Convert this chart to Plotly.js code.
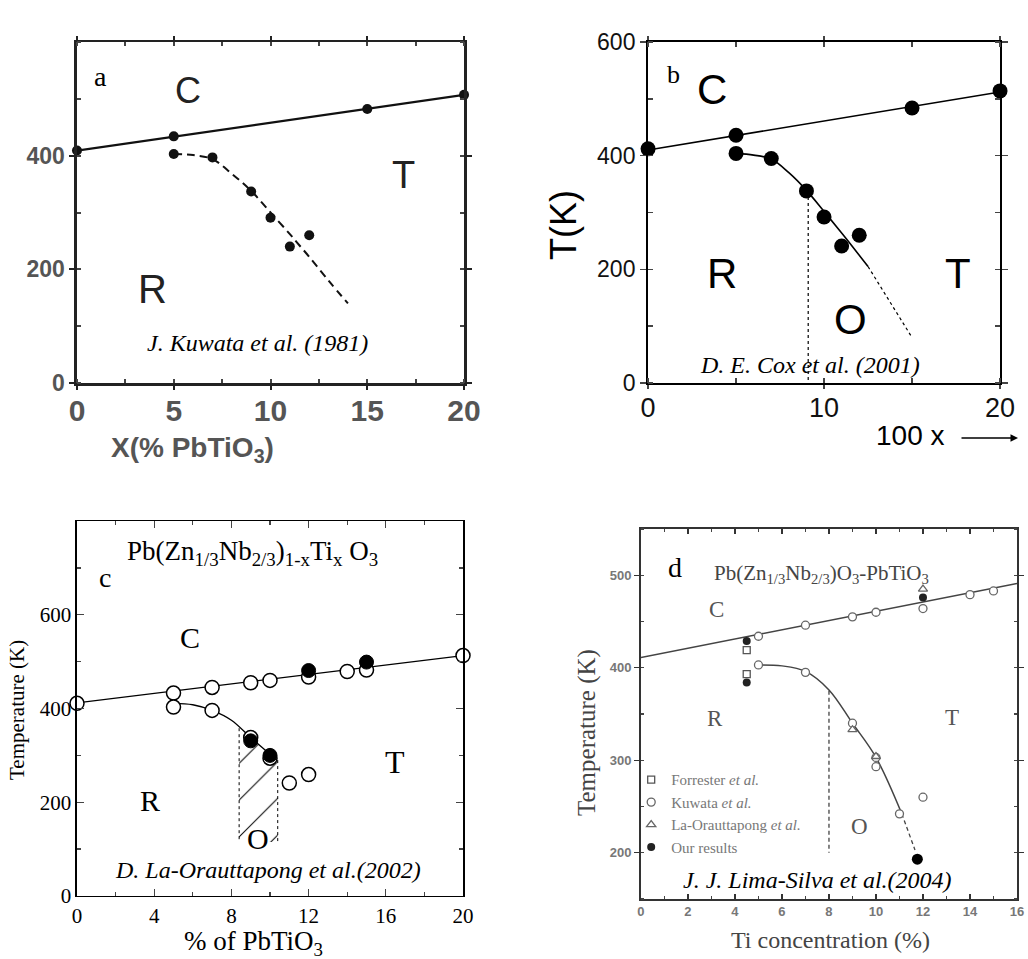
<!DOCTYPE html>
<html><head><meta charset="utf-8">
<script src="https://cdn.plot.ly/plotly-3.0.1.min.js"></script>
<style>html,body{margin:0;padding:0;background:#fff}#fig{width:1028px;height:959px}</style>
</head><body><div id="fig"></div>
<script>
// ---------- Panel a (Kuwata 1981) ----------
const aTopX = [0, 5, 15, 20];
const aTopY = [409, 434, 482, 507];
const aLowX = [5, 7, 9, 10, 11, 12];
const aLowY = [403, 397, 337, 291, 240, 260];
const aLineX = [0, 20];
const aLineY = [409, 507];
const aCurveX = [5, 6, 7, 8, 9, 10, 11, 11.5, 12, 13, 14];
const aCurveY = [403, 401, 394, 368, 338, 300, 262, 242, 222, 180, 140];
const aXTicks = [0, 5, 10, 15, 20];
const aYTicks = [0, 200, 400];

// ---------- Panel b (Cox 2001) ----------
const bTopX = [0, 5, 15, 20];
const bTopY = [412, 436, 484, 514];
const bLowX = [5, 7, 9, 10, 11, 12];
const bLowY = [404, 395, 338, 292, 241, 260];
const bLineX = [0, 20];
const bLineY = [410, 512];
const bCurveX = [5, 6, 7, 8, 9, 10, 11, 12, 12.5];
const bCurveY = [404, 401, 394, 370, 339, 302, 264, 225, 205];
const bDotX = [12.5, 15];
const bDotY = [205, 80];
const bVertX = [9.1, 9.1];
const bVertY = [338, -15];
const bXTicks = [0, 10, 20];
const bYTicks = [0, 200, 400, 600];

// ---------- Panel c (La-Orauttapong 2002) ----------
const cOpenX = [0, 5, 7, 9, 10, 12, 14, 15, 20, 5, 7, 9, 10, 11, 12];
const cOpenY = [411, 433, 445, 455, 460, 467, 479, 482, 513, 403, 396, 338, 294, 241, 259];
const cFillX = [12, 15, 9, 10];
const cFillY = [481, 499, 331, 300];
const cLineX = [0, 20];
const cLineY = [412, 513];
const cCurveX = [5, 6, 7, 8, 9, 10, 10.3];
const cCurveY = [411, 408, 396, 375, 338, 302, 291];
const cHatchX = [8.4, 8.4, 9, 10, 10.4, 10.4, 8.4];
const cHatchY = [115, 358, 338, 302, 290, 115, 115];
const cLeftEdgeX = [8.4, 8.4];
const cLeftEdgeY = [358, 115];
const cRightEdgeX = [10.4, 10.4];
const cRightEdgeY = [290, 115];
const cXTicks = [0, 4, 8, 12, 16, 20];
const cYTicks = [0, 200, 400, 600];

// ---------- Panel d (Lima-Silva 2004) ----------
const dForX = [4.5, 4.5];
const dForY = [419, 393];
const dKuwX = [5, 7, 9, 10, 12, 14, 15, 5, 7, 9, 10, 10, 11, 12];
const dKuwY = [434, 446, 455, 460, 464, 479, 483, 403, 395, 340, 303, 293, 242, 260];
const dLaOX = [9, 10, 12];
const dLaOY = [333, 304, 485];
const dOurX = [4.5, 4.5, 12];
const dOurY = [429, 384, 476];
const dBigX = [11.76];
const dBigY = [193];
const dLineX = [0, 16];
const dLineY = [411, 491];
const dCurveX = [5, 6, 7, 8, 9, 10, 11.1];
const dCurveY = [403, 402, 396, 376, 340, 303, 242];
const dDashX = [11.1, 11.66];
const dDashY = [242, 203];
const dVertX = [8, 8];
const dVertY = [375, 200];
const dXTicks = [0, 2, 4, 6, 8, 10, 12, 14, 16];
const dYTicks = [200, 300, 400, 500];
const dLegendNames = ['Forrester <i>et al.</i>', 'Kuwata <i>et al.</i>', 'La-Orauttapong <i>et al.</i>', 'Our results'];

const SANS = 'Liberation Sans, Arial, sans-serif';
const SERIF = 'Liberation Serif, Times New Roman, serif';

function line(x, y, xa, ya, opts) {
  return Object.assign({x: x, y: y, xaxis: xa, yaxis: ya, mode: 'lines', showlegend: false,
    hoverinfo: 'skip', cliponaxis: false,
    line: {color: 'black', width: 1.5, shape: 'spline', smoothing: 1}}, opts || {});
}
function pts(x, y, xa, ya, marker, opts) {
  return Object.assign({x: x, y: y, xaxis: xa, yaxis: ya, mode: 'markers', showlegend: false,
    cliponaxis: false, marker: marker}, opts || {});
}

const traces = [
  // a
  line(aLineX, aLineY, 'x', 'y', {line: {color: '#111', width: 2.2}}),
  line(aCurveX, aCurveY, 'x', 'y', {line: {color: '#111', width: 2, dash: '8px,5px', shape: 'spline'}}),
  pts(aTopX, aTopY, 'x', 'y', {color: '#111', size: 10}),
  pts(aLowX, aLowY, 'x', 'y', {color: '#111', size: 10}),
  // b
  line(bLineX, bLineY, 'x2', 'y2', {line: {color: 'black', width: 1.6}}),
  line(bCurveX, bCurveY, 'x2', 'y2', {line: {color: 'black', width: 1.6, shape: 'spline'}}),
  line(bDotX, bDotY, 'x2', 'y2', {line: {color: 'black', width: 1.2, dash: 'dot'}}),
  line(bVertX, bVertY, 'x2', 'y2', {line: {color: 'black', width: 1.2, dash: 'dot'}}),
  pts(bTopX, bTopY, 'x2', 'y2', {color: 'black', size: 15}),
  pts(bLowX, bLowY, 'x2', 'y2', {color: 'black', size: 15}),
  // c
  {x: cHatchX, y: cHatchY, xaxis: 'x3', yaxis: 'y3', mode: 'lines', fill: 'toself', showlegend: false,
   hoverinfo: 'skip', line: {width: 0, color: 'rgba(0,0,0,0)'}, fillcolor: 'rgba(0,0,0,0)',
   fillpattern: {shape: '/', size: 26, solidity: 0.04, fgcolor: 'black', bgcolor: 'rgba(255,255,255,0)'}},
  line(cLeftEdgeX, cLeftEdgeY, 'x3', 'y3', {line: {color: 'black', width: 1, dash: 'dot'}}),
  line(cRightEdgeX, cRightEdgeY, 'x3', 'y3', {line: {color: 'black', width: 1, dash: 'dot'}}),
  line(cLineX, cLineY, 'x3', 'y3', {line: {color: 'black', width: 1.3}}),
  line(cCurveX, cCurveY, 'x3', 'y3', {line: {color: 'black', width: 1.3, shape: 'spline'}}),
  pts(cOpenX, cOpenY, 'x3', 'y3', {symbol: 'circle', color: 'white', size: 14, line: {color: 'black', width: 1.5}}),
  pts(cFillX, cFillY, 'x3', 'y3', {symbol: 'circle', color: 'black', size: 14, line: {color: 'black', width: 1}}),
  // d
  line(dLineX, dLineY, 'x4', 'y4', {line: {color: '#444', width: 1.5}}),
  line(dCurveX, dCurveY, 'x4', 'y4', {line: {color: '#444', width: 1.5, shape: 'spline'}}),
  line(dDashX, dDashY, 'x4', 'y4', {line: {color: '#444', width: 1.3, dash: '4px,3px'}}),
  line(dVertX, dVertY, 'x4', 'y4', {line: {color: '#333', width: 1.2, dash: '4px,3px'}}),
  pts(dForX, dForY, 'x4', 'y4', {symbol: 'square-open', color: '#555', size: 7, line: {width: 1.3}},
      {name: dLegendNames[0], showlegend: true}),
  pts(dKuwX, dKuwY, 'x4', 'y4', {symbol: 'circle', color: 'white', size: 8, line: {color: '#666', width: 1.3}},
      {name: dLegendNames[1], showlegend: true}),
  pts(dLaOX, dLaOY, 'x4', 'y4', {symbol: 'triangle-up', color: 'white', size: 8, line: {color: '#666', width: 1.3}},
      {name: dLegendNames[2], showlegend: true}),
  pts(dOurX, dOurY, 'x4', 'y4', {symbol: 'circle', color: '#222', size: 8},
      {name: dLegendNames[3], showlegend: true}),
  pts(dBigX, dBigY, 'x4', 'y4', {symbol: 'circle', color: 'black', size: 11})
];

function ax(extra) {
  return Object.assign({showgrid: false, zeroline: false, showline: true, mirror: 'ticks',
    fixedrange: true, automargin: false}, extra);
}

const layout = {
  width: 1028, height: 959, margin: {l: 0, r: 0, t: 0, b: 0},
  paper_bgcolor: 'white', plot_bgcolor: 'white',
  showlegend: true,
  legend: {x: 0.614, y: 0.204, xanchor: 'left', yanchor: 'top', bgcolor: 'rgba(0,0,0,0)',
    font: {family: SERIF, size: 15, color: '#777'}, itemwidth: 30, tracegroupgap: 0},
  // a
  xaxis: ax({domain: [0.0749, 0.4514], anchor: 'y', range: [0, 20], tickvals: aXTicks,
    ticks: 'outside', ticklen: 4, tickwidth: 2, linewidth: 2.5, linecolor: '#222', tickcolor: '#222',
    ticklabelstandoff: -5,
    tickfont: {family: SANS, size: 30, color: '#555', weight: 'bold'},
    minor: {dtick: 2.5, ticks: 'inside', ticklen: 4, tickcolor: '#444'}}),
  yaxis: ax({domain: [0.6006, 0.9562], anchor: 'x', range: [0, 600], tickvals: aYTicks,
    ticks: 'outside', ticklen: 5, tickwidth: 2, linewidth: 2.5, linecolor: '#222', tickcolor: '#222',
    tickfont: {family: SANS, size: 23, color: '#555', weight: 'bold'},
    minor: {dtick: 100, ticks: 'inside', ticklen: 4, tickcolor: '#444'}}),
  // b
  xaxis2: ax({domain: [0.6304, 0.9728], anchor: 'y2', range: [0, 20], tickvals: bXTicks,
    ticks: 'outside', ticklen: 4, tickwidth: 1.5, linewidth: 2, linecolor: 'black',
    ticklabelstandoff: -4,
    tickfont: {family: SANS, size: 27, color: '#111'},
    minor: {dtick: 5, ticks: 'inside', ticklen: 5}}),
  yaxis2: ax({domain: [0.6006, 0.9562], anchor: 'x2', range: [0, 600], tickvals: bYTicks,
    ticks: 'outside', ticklen: 6, tickwidth: 1.5, linewidth: 2, linecolor: 'black',
    tickfont: {family: SANS, size: 23, color: '#111'},
    minor: {dtick: 100, ticks: 'inside', ticklen: 5}}),
  // c
  xaxis3: ax({domain: [0.0749, 0.4504], anchor: 'y3', range: [0, 20], tickvals: cXTicks,
    ticks: 'inside', ticklen: 7, tickwidth: 1.3, linewidth: 1.5, linecolor: 'black',
    tickfont: {family: SERIF, size: 21, color: 'black'},
    minor: {dtick: 2, ticks: 'inside', ticklen: 4}}),
  yaxis3: ax({domain: [0.0657, 0.4567], anchor: 'x3', range: [0, 800], tickvals: cYTicks,
    ticks: 'inside', ticklen: 7, tickwidth: 1.3, linewidth: 1.5, linecolor: 'black',
    tickfont: {family: SERIF, size: 21, color: 'black'},
    minor: {dtick: 100, ticks: 'inside', ticklen: 4}}),
  // d
  xaxis4: ax({domain: [0.6235, 0.9893], anchor: 'y4', range: [0, 16], tickvals: dXTicks,
    ticks: 'inside', ticklen: 5, tickwidth: 1.3, linewidth: 1.8, linecolor: '#333', tickcolor: '#333',
    tickfont: {family: SANS, size: 13, color: '#777', weight: 'bold'},
    minor: {dtick: 1, ticks: 'inside', ticklen: 3, tickcolor: '#444'}}),
  yaxis4: ax({domain: [0.0626, 0.4484], anchor: 'x4', range: [150, 550], tickvals: dYTicks,
    ticks: 'outside', ticklen: 5, tickwidth: 1.3, linewidth: 1.8, linecolor: '#333', tickcolor: '#333',
    tickfont: {family: SANS, size: 13, color: '#777', weight: 'bold'},
    minor: {dtick: 50, ticks: 'inside', ticklen: 3, tickcolor: '#444'}}),
  annotations: []
};

function note(text, x, y, xref, yref, font, extra) {
  layout.annotations.push(Object.assign({text: text, x: x, y: y, xref: xref, yref: yref,
    showarrow: false, xanchor: 'center', yanchor: 'middle', font: font}, extra || {}));
}
const P = 'paper';
// a labels
note('a', 1.19, 540, 'x', 'y', {family: SERIF, size: 28, color: 'black'});
note('C', 5.74, 515, 'x', 'y', {family: SANS, size: 36, color: '#222'});
note('T', 16.85, 366, 'x', 'y', {family: SANS, size: 38, color: '#222'});
note('R', 3.88, 165, 'x', 'y', {family: SANS, size: 40, color: '#222'});
note('<i>J. Kuwata et al. (1981)</i>', 9.35, 71, 'x', 'y', {family: SERIF, size: 24, color: 'black'});
note('X(% PbTiO<sub>3</sub>)', 192 / 1028, 1 - 449 / 959, P, P, {family: SANS, size: 28, color: '#555', weight: 'bold'});
// b labels
note('b', 1.42, 542, 'x2', 'y2', {family: SERIF, size: 26, color: 'black'});
note('C', 3.64, 516, 'x2', 'y2', {family: SANS, size: 42, color: 'black'});
note('R', 4.2, 192, 'x2', 'y2', {family: SANS, size: 42, color: 'black'});
note('T', 17.6, 192, 'x2', 'y2', {family: SANS, size: 42, color: 'black'});
note('O', 11.5, 111, 'x2', 'y2', {family: SANS, size: 42, color: 'black'});
note('<i>D. E. Cox et al. (2001)</i>', 9.2, 32, 'x2', 'y2', {family: SERIF, size: 24, color: 'black'});
note('T(K)', 563 / 1028, 1 - 225 / 959, P, P, {family: SANS, size: 36, color: 'black'}, {textangle: -90});
note('100 x', 910 / 1028, 1 - 435 / 959, P, P, {family: SANS, size: 28, color: 'black'});
layout.annotations.push({x: 1018 / 1028, y: 1 - 438 / 959, xref: P, yref: P, ax: -58, ay: 0,
  text: '', showarrow: true, arrowhead: 2, arrowsize: 1, arrowwidth: 1.5, arrowcolor: 'black'});
// c labels
note('c', 1.45, 679, 'x3', 'y3', {family: SERIF, size: 28, color: 'black'});
note('Pb(Zn<sub>1/3</sub>Nb<sub>2/3</sub>)<sub>1-x</sub>Ti<sub>x</sub> O<sub>3</sub>', 9.07, 732, 'x3', 'y3', {family: SERIF, size: 27, color: 'black'});
note('C', 5.85, 551, 'x3', 'y3', {family: SERIF, size: 30, color: 'black'});
note('T', 16.5, 285, 'x3', 'y3', {family: SERIF, size: 32, color: 'black'});
note('R', 3.78, 204, 'x3', 'y3', {family: SERIF, size: 30, color: 'black'});
note('O', 9.38, 123, 'x3', 'y3', {family: SERIF, size: 30, color: 'black'});
note('<i>D. La-Orauttapong et al.(2002)</i>', 9.9, 55, 'x3', 'y3', {family: SERIF, size: 24, color: 'black'});
note('Temperature (K)', 17 / 1028, 1 - 710 / 959, P, P, {family: SERIF, size: 21, color: 'black'}, {textangle: -90});
note('% of PbTiO<sub>3</sub>', 253 / 1028, 1 - 943 / 959, P, P, {family: SERIF, size: 27, color: 'black'});
// d labels
note('d', 1.46, 508, 'x4', 'y4', {family: SERIF, size: 28, color: 'black'});
note('Pb(Zn<sub>1/3</sub>Nb<sub>2/3</sub>)O<sub>3</sub>-PbTiO<sub>3</sub>', 7.7, 501, 'x4', 'y4', {family: SERIF, size: 21, color: '#444'});
note('C', 3.2, 463, 'x4', 'y4', {family: SERIF, size: 23, color: '#555'});
note('R', 3.16, 345, 'x4', 'y4', {family: SERIF, size: 23, color: '#555'});
note('T', 13.23, 346, 'x4', 'y4', {family: SERIF, size: 23, color: '#555'});
note('O', 9.32, 228, 'x4', 'y4', {family: SERIF, size: 23, color: '#555'});
note('<i>J. J. Lima-Silva et al.(2004)</i>', 7.5, 171, 'x4', 'y4', {family: SERIF, size: 24, color: 'black'});
note('Temperature (K)', 587 / 1028, 1 - 733 / 959, P, P, {family: SERIF, size: 25, color: '#444'}, {textangle: -90});
note('Ti concentration (%)', 830 / 1028, 1 - 940 / 959, P, P, {family: SERIF, size: 24, color: '#444'});

Plotly.newPlot('fig', traces, layout, {staticPlot: true, displayModeBar: false});
</script></body></html>
